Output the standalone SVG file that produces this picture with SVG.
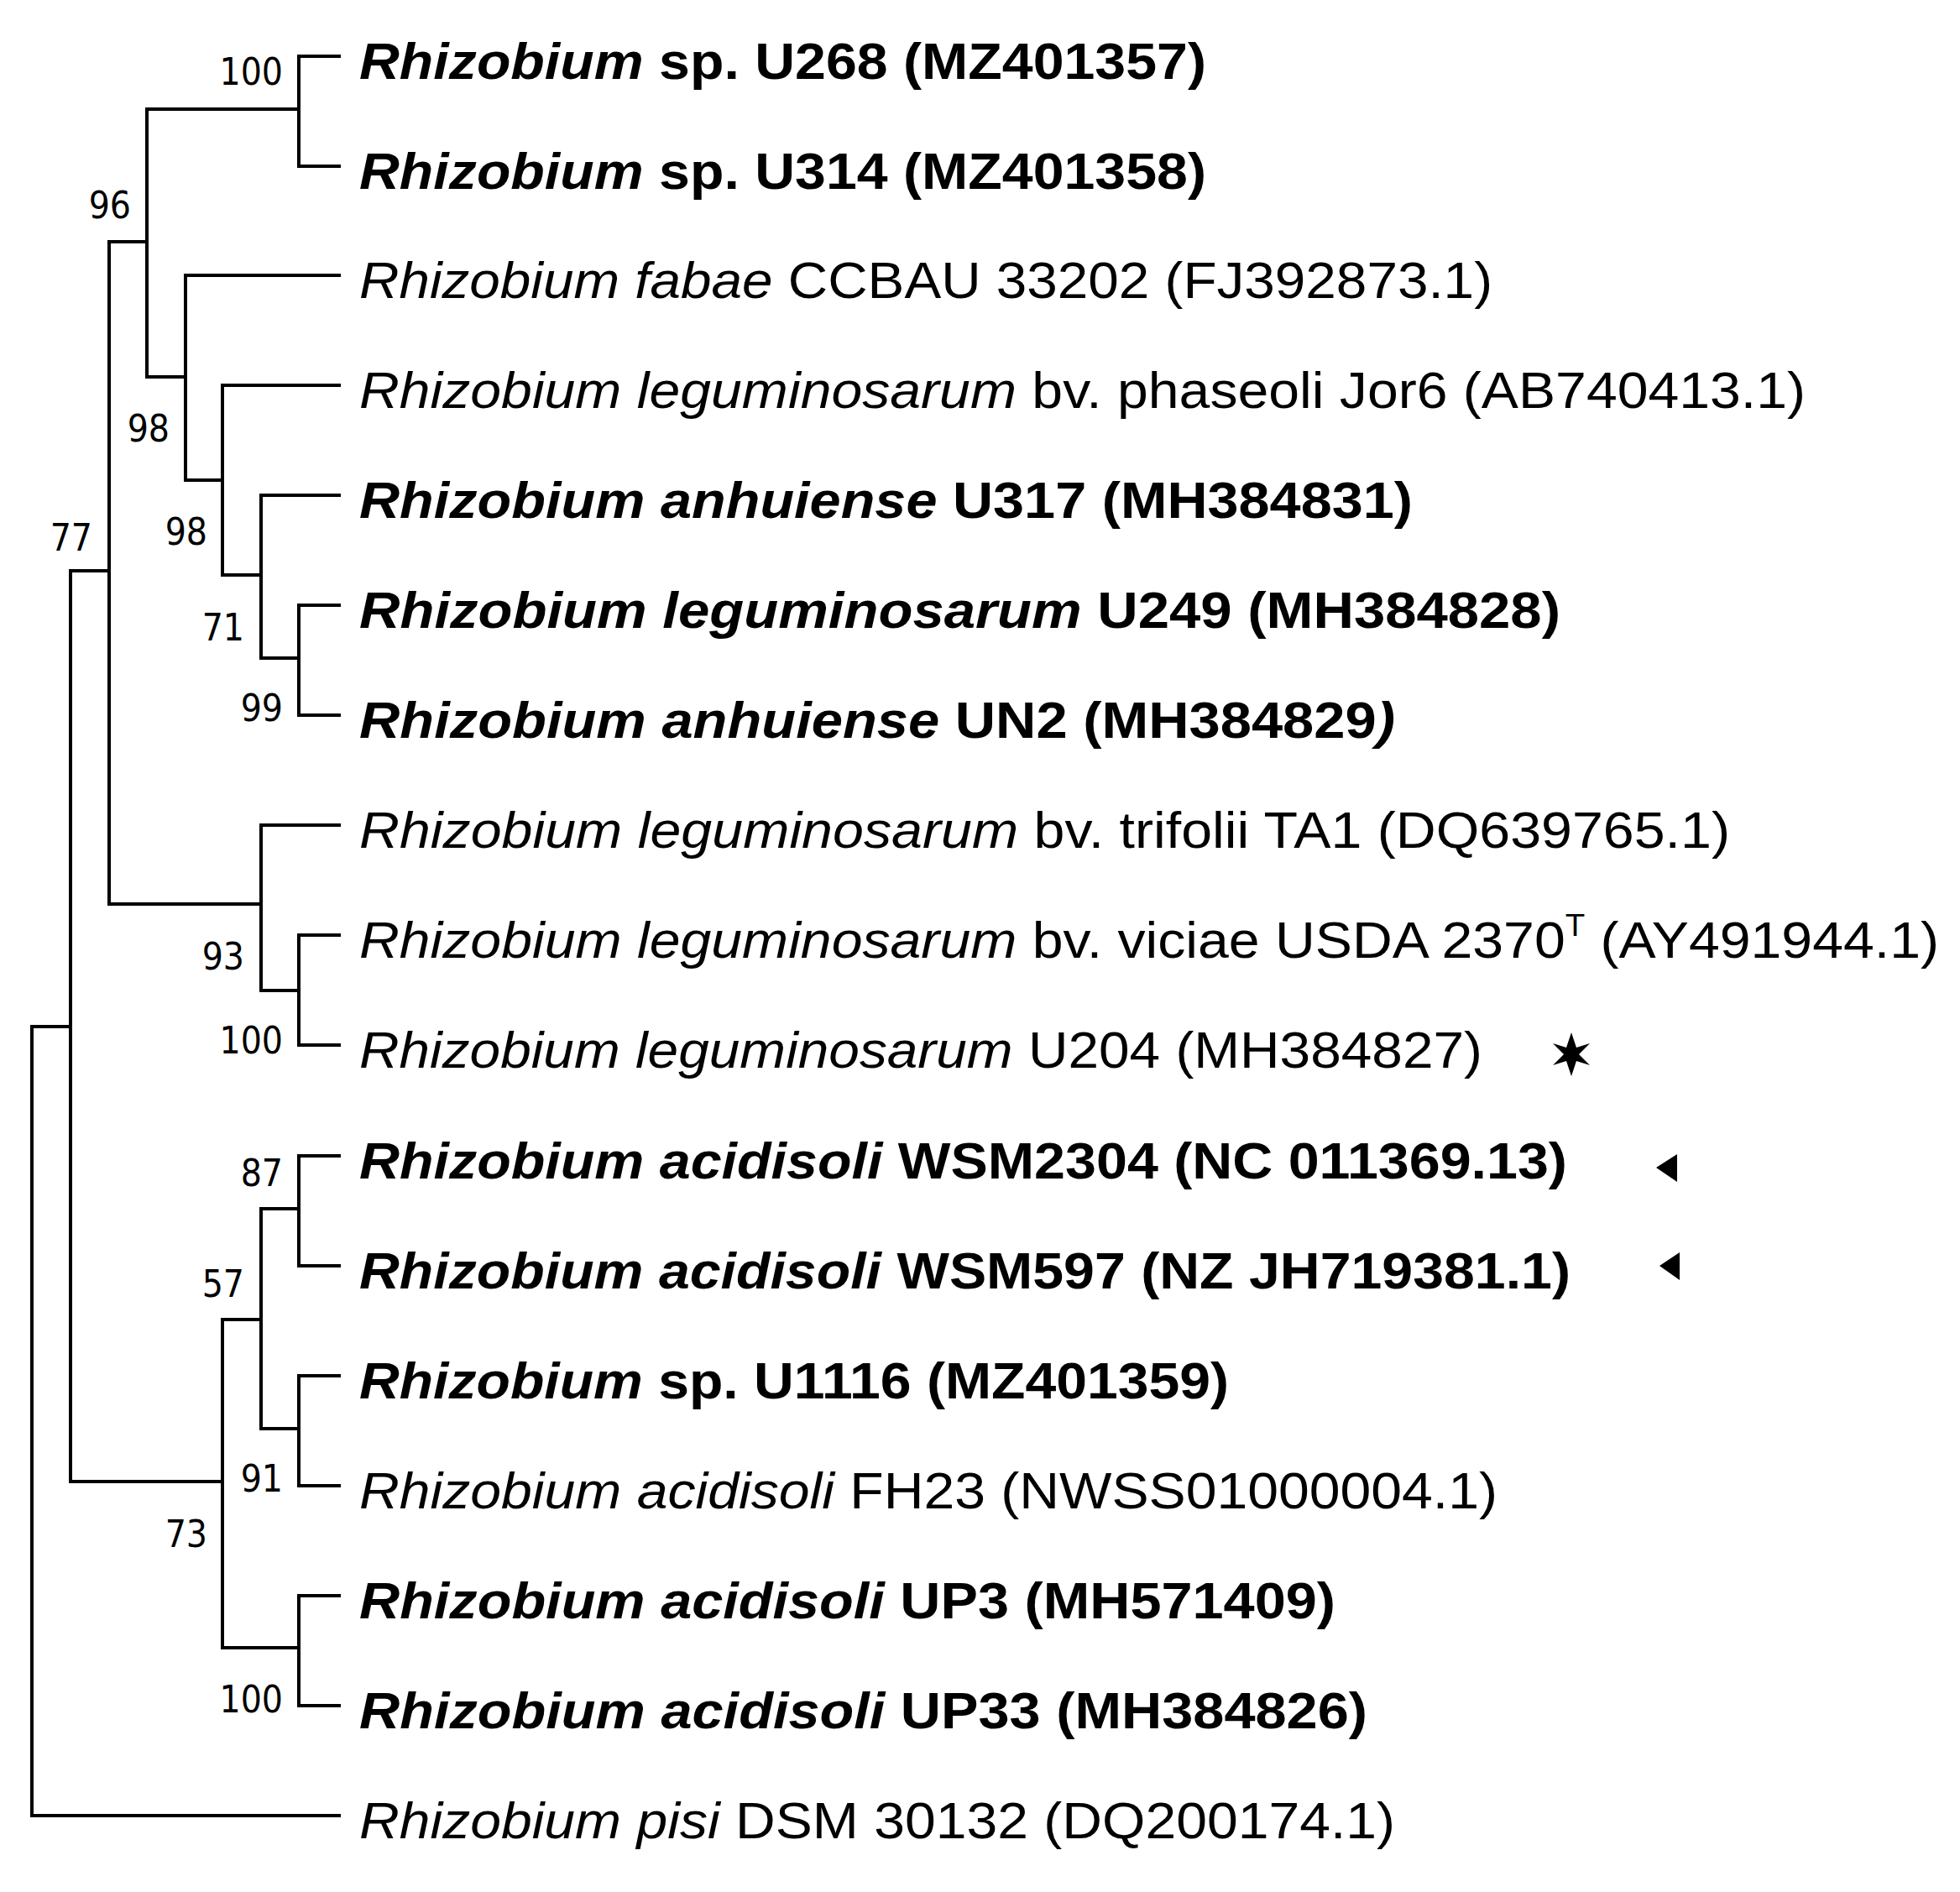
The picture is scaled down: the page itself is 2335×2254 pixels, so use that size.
<svg xmlns="http://www.w3.org/2000/svg" width="2335" height="2254" viewBox="0 0 2335 2254">
<style>
.t{font-family:"Liberation Sans Narrow","Liberation Sans",Arial,sans-serif;font-size:62px;fill:#000}
.b{font-weight:bold}
.i{font-style:italic}
.n{font-family:"DejaVu Sans Condensed","DejaVu Sans",sans-serif;font-size:44px;fill:#000;text-anchor:end}
.e{fill:none;stroke:#000;stroke-width:4;stroke-linecap:square}
</style>
<rect width="2335" height="2254" fill="#fff"/>
<g id="connectors">
<path class="e" d="M38,1223V2163H404 M38,1223H84 M84,680V1765 M84,680H130 M84,1765H265
M130,288V1077 M130,288H175 M130,1077H311
M175,130V449 M175,130H356 M175,449H221
M356,67V198 M356,67H404 M356,198H404
M221,328V572 M221,328H404 M221,572H265
M265,459V685 M265,459H404 M265,685H311
M311,590V784 M311,590H404 M311,784H356
M356,721V852 M356,721H404 M356,852H404
M311,983V1180 M311,983H404 M311,1180H356
M356,1114V1245 M356,1114H404 M356,1245H404
M265,1572V1963 M265,1572H311 M265,1963H356
M311,1440V1702 M311,1440H356 M311,1702H356
M356,1377V1508 M356,1377H404 M356,1508H404
M356,1639V1770 M356,1639H404 M356,1770H404
M356,1901V2032 M356,1901H404 M356,2032H404"/>
</g>
<g id="bootstrap">
<text class="n" x="337" y="101">100</text>
<text class="n" x="156" y="260">96</text>
<text class="n" x="202" y="526">98</text>
<text class="n" x="247" y="649">98</text>
<text class="n" x="110" y="656">77</text>
<text class="n" x="291" y="763">71</text>
<text class="n" x="337" y="859">99</text>
<text class="n" x="291" y="1155">93</text>
<text class="n" x="337" y="1255">100</text>
<text class="n" x="337" y="1413">87</text>
<text class="n" x="291" y="1545">57</text>
<text class="n" x="337" y="1777">91</text>
<text class="n" x="247" y="1843">73</text>
<text class="n" x="337" y="2040">100</text>
</g>
<g id="leaf0"><text class="t b" x="428" y="94" textLength="1009" lengthAdjust="spacingAndGlyphs"><tspan class="i">Rhizobium</tspan> sp. U268 (MZ401357)</text></g>
<g id="leaf1"><text class="t b" x="428" y="225" textLength="1009" lengthAdjust="spacingAndGlyphs"><tspan class="i">Rhizobium</tspan> sp. U314 (MZ401358)</text></g>
<g id="leaf2"><text class="t" x="428" y="355" textLength="1350" lengthAdjust="spacingAndGlyphs"><tspan class="i">Rhizobium fabae</tspan> CCBAU 33202 (FJ392873.1)</text></g>
<g id="leaf3"><text class="t" x="428" y="486" textLength="1723" lengthAdjust="spacingAndGlyphs"><tspan class="i">Rhizobium leguminosarum</tspan> bv. phaseoli Jor6 (AB740413.1)</text></g>
<g id="leaf4"><text class="t b" x="428" y="617" textLength="1255" lengthAdjust="spacingAndGlyphs"><tspan class="i">Rhizobium anhuiense</tspan> U317 (MH384831)</text></g>
<g id="leaf5"><text class="t b" x="428" y="748" textLength="1431" lengthAdjust="spacingAndGlyphs"><tspan class="i">Rhizobium leguminosarum</tspan> U249 (MH384828)</text></g>
<g id="leaf6"><text class="t b" x="428" y="879" textLength="1234" lengthAdjust="spacingAndGlyphs"><tspan class="i">Rhizobium anhuiense</tspan> UN2 (MH384829<tspan class="i">)</tspan></text></g>
<g id="leaf7"><text class="t" x="428" y="1010" textLength="1633" lengthAdjust="spacingAndGlyphs"><tspan class="i">Rhizobium leguminosarum</tspan> bv. trifolii TA1 (DQ639765.1)</text></g>
<g id="leaf8"><text class="t" x="428" y="1141" textLength="1882" lengthAdjust="spacingAndGlyphs"><tspan class="i">Rhizobium leguminosarum</tspan> bv. viciae USDA 2370<tspan font-size="36" dy="-26">T</tspan><tspan dy="26"> (AY491944.1)</tspan></text></g>
<g id="leaf9"><text class="t" x="428" y="1272" textLength="1338" lengthAdjust="spacingAndGlyphs"><tspan class="i">Rhizobium leguminosarum</tspan> U204 (MH384827)</text>
<path d="M1872,1230 L1878,1248 L1894,1243 L1881,1256 L1894,1269 L1878,1264 L1872,1282 L1866,1264 L1850,1269 L1863,1256 L1850,1243 L1866,1248Z" fill="#000"/></g>
<g id="leaf10"><text class="t b" x="428" y="1404" textLength="1439" lengthAdjust="spacingAndGlyphs"><tspan class="i">Rhizobium acidisoli</tspan> WSM2304 (NC 011369.13)</text>
<polygon points="1973,1391 1998,1375 1998,1408" fill="#000"/></g>
<g id="leaf11"><text class="t b" x="428" y="1535" textLength="1443" lengthAdjust="spacingAndGlyphs"><tspan class="i">Rhizobium acidisoli</tspan> WSM597 (NZ JH719381.1)</text>
<polygon points="1977,1508 2001,1492 2001,1525" fill="#000"/></g>
<g id="leaf12"><text class="t b" x="428" y="1666" textLength="1036" lengthAdjust="spacingAndGlyphs"><tspan class="i">Rhizobium</tspan> sp. U1116 (MZ401359)</text></g>
<g id="leaf13"><text class="t" x="428" y="1797" textLength="1356" lengthAdjust="spacingAndGlyphs"><tspan class="i">Rhizobium acidisoli</tspan> FH23 (NWSS01000004.1)</text></g>
<g id="leaf14"><text class="t b" x="428" y="1928" textLength="1163" lengthAdjust="spacingAndGlyphs"><tspan class="i">Rhizobium acidisoli</tspan> UP3 (MH571409)</text></g>
<g id="leaf15"><text class="t b" x="428" y="2059" textLength="1201" lengthAdjust="spacingAndGlyphs"><tspan class="i">Rhizobium acidisoli</tspan> UP33 (MH384826)</text></g>
<g id="leaf16"><text class="t" x="428" y="2190" textLength="1234" lengthAdjust="spacingAndGlyphs"><tspan class="i">Rhizobium pisi</tspan> DSM 30132 (DQ200174.1)</text></g>
</svg>
